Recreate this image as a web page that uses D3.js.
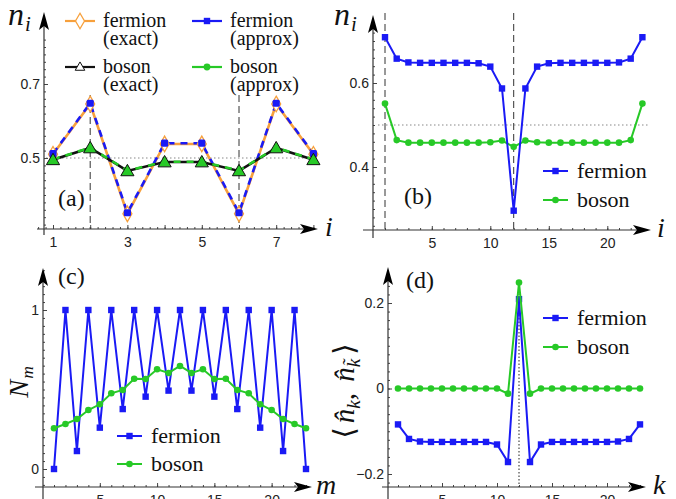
<!DOCTYPE html>
<html>
<head>
<meta charset="utf-8">
<script src="https://cdn.jsdelivr.net/npm/d3@7"></script>
<style>
  body { margin: 0; background: #fff; }
  .tick text { font-family: "Liberation Sans", Arial, sans-serif; font-size: 14px; fill: #222; }
</style>
</head>
<body>
<script>
// ---------- data ----------
var aSites = [1, 2, 3, 4, 5, 6, 7, 8];
var aFermionExact  = [0.510, 0.646, 0.349, 0.538, 0.538, 0.349, 0.646, 0.510];
var aFermionApprox = [0.512, 0.648, 0.352, 0.540, 0.540, 0.352, 0.648, 0.512];
var aBosonExact    = [0.495, 0.527, 0.465, 0.489, 0.489, 0.465, 0.527, 0.495];
var aBosonApprox   = [0.496, 0.528, 0.466, 0.490, 0.490, 0.466, 0.528, 0.496];
var aMarks = [2, 6];

var sites = [1, 2, 3, 4, 5, 6, 7, 8, 9, 10, 11, 12, 13, 14, 15, 16, 17, 18, 19, 20, 21, 22, 23];

var bFermion = [0.709, 0.658, 0.649, 0.648, 0.648, 0.648, 0.648, 0.648, 0.647, 0.639, 0.587, 0.296,
                0.587, 0.639, 0.647, 0.648, 0.648, 0.648, 0.648, 0.648, 0.649, 0.658, 0.709];
var bBoson   = [0.551, 0.464, 0.458, 0.458, 0.458, 0.458, 0.458, 0.458, 0.458, 0.459, 0.463, 0.448,
                0.463, 0.459, 0.458, 0.458, 0.458, 0.458, 0.458, 0.458, 0.458, 0.464, 0.551];
var bMarks = [1, 12];

var cFermion = [0, 1, 0.113, 1, 0.26, 1, 0.377, 1, 0.455, 1, 0.493, 1,
                0.493, 1, 0.455, 1, 0.377, 1, 0.26, 1, 0.113, 1, 0];
var cBoson   = [0.256, 0.283, 0.314, 0.371, 0.407, 0.476, 0.497, 0.568, 0.566, 0.627, 0.604, 0.648,
                0.604, 0.627, 0.566, 0.568, 0.497, 0.476, 0.407, 0.371, 0.314, 0.283, 0.256];

var dFermion = [-0.084, -0.118, -0.124, -0.125, -0.125, -0.125, -0.125, -0.125, -0.125, -0.131, -0.172, 0.209,
                -0.172, -0.131, -0.125, -0.125, -0.125, -0.125, -0.125, -0.125, -0.124, -0.118, -0.084];
var dBoson   = [0, 0, 0, 0, 0, 0, 0, 0, 0, 0, -0.012, 0.248,
                -0.012, 0, 0, 0, 0, 0, 0, 0, 0, 0, 0];
var dMarks = [12];

var aXLabels = [1, 3, 5, 7];
var sXLabels = [5, 10, 15, 20];
var aYLabels = [0.5, 0.7];
var bYLabels = [0.4, 0.6];
var cYLabels = [0, 1];
var dYLabels = [-0.2, 0, 0.2];

var BLUE = "#1a1af5", GREEN = "#27c927", ORANGE = "#f7a03c";
var SERIF = "Liberation Serif, DejaVu Serif, Times New Roman, serif";

var svg = d3.select("body").append("svg")
    .attr("width", 676)
    .attr("height", 499);

// axes with inward ticks, minor ticks and arrow heads
function drawAxes(g, o) {
  g.append("g").attr("transform", "translate(0," + o.ay + ")").style("color", "#444")
    .call(d3.axisBottom(o.x).tickValues(o.xMinor).tickSize(-2).tickFormat(""))
    .call(function(s) { s.select(".domain").remove(); });
  g.append("g").attr("transform", "translate(0," + o.ay + ")").style("color", "#444")
    .call(d3.axisBottom(o.x).tickValues(o.xMajor).tickSize(-4).tickPadding(8)
      .tickFormat(function(d) { return o.xLabels.indexOf(d) >= 0 ? d : ""; }))
    .call(function(s) { s.select(".domain").remove(); });
  g.append("g").attr("transform", "translate(" + o.ax + ",0)").style("color", "#444")
    .call(d3.axisLeft(o.y).tickValues(o.yMinor).tickSize(-2).tickFormat(""))
    .call(function(s) { s.select(".domain").remove(); });
  g.append("g").attr("transform", "translate(" + o.ax + ",0)").style("color", "#444")
    .call(d3.axisLeft(o.y).tickValues(o.yLabels).tickSize(-4).tickPadding(4).tickFormat(o.fmt))
    .call(function(s) { s.select(".domain").remove(); });

  g.append("line").attr("x1", o.x0).attr("x2", o.xTip - 8).attr("y1", o.ay).attr("y2", o.ay)
    .attr("stroke", "#333").attr("stroke-width", 1.2);
  g.append("line").attr("x1", o.ax).attr("x2", o.ax).attr("y1", o.y0).attr("y2", o.yTip + 8)
    .attr("stroke", "#333").attr("stroke-width", 1.2);
  g.append("path")
    .attr("d", "M" + o.xTip + "," + o.ay + "L" + (o.xTip - 18) + "," + (o.ay - 5) +
               "L" + (o.xTip - 14) + "," + o.ay + "L" + (o.xTip - 18) + "," + (o.ay + 5) + "Z")
    .attr("fill", "#000");
  g.append("path")
    .attr("d", "M" + o.ax + "," + o.yTip + "L" + (o.ax - 5) + "," + (o.yTip + 18) +
               "L" + o.ax + "," + (o.yTip + 14) + "L" + (o.ax + 5) + "," + (o.yTip + 18) + "Z")
    .attr("fill", "#000");
}

function serifText(g) {
  return g.append("text").attr("font-family", SERIF).attr("fill", "#111");
}

function mathLabel(g, x, y, base, sub, size, rot) {
  var t = serifText(g)
      .attr("transform", "translate(" + x + "," + y + ")" + (rot ? " rotate(-90)" : ""))
      .attr("text-anchor", rot ? "middle" : "start")
      .attr("font-style", "italic").attr("font-size", size);
  t.append("tspan").text(base);
  t.append("tspan").attr("dx", 1).attr("dy", size * 0.2).attr("font-size", size * 0.65).text(sub);
}

function panelLabel(g, x, y, s) {
  serifText(g).attr("x", x).attr("y", y).attr("font-size", 24).text(s);
}

function axisName(g, x, y, s) {
  serifText(g).attr("x", x).attr("y", y).attr("font-style", "italic").attr("font-size", 28).text(s);
}

function drawSeries(g, x, y, xs, vals, color, marker, w) {
  var line = d3.line().x(function(d, i) { return x(xs[i]); }).y(function(d) { return y(d); });
  g.append("path").datum(vals).attr("d", line).attr("fill", "none")
    .attr("stroke", color).attr("stroke-width", w);
  if (marker === "square") {
    g.selectAll(null).data(vals).enter().append("rect")
      .attr("x", function(d, i) { return x(xs[i]) - 3.2; })
      .attr("y", function(d) { return y(d) - 3.2; })
      .attr("width", 6.4).attr("height", 6.4).attr("fill", color);
  } else {
    g.selectAll(null).data(vals).enter().append("circle")
      .attr("cx", function(d, i) { return x(xs[i]); })
      .attr("cy", function(d) { return y(d); })
      .attr("r", 3.3).attr("fill", color);
  }
}

function legendItem(g, x, y, color, marker, label, size) {
  g.append("line").attr("x1", x).attr("x2", x + 25).attr("y1", y).attr("y2", y)
    .attr("stroke", color).attr("stroke-width", 2);
  if (marker === "square") {
    g.append("rect").attr("x", x + 9.3).attr("y", y - 3.2).attr("width", 6.4).attr("height", 6.4).attr("fill", color);
  } else {
    g.append("circle").attr("cx", x + 12.5).attr("cy", y).attr("r", 3.3).attr("fill", color);
  }
  serifText(g).attr("x", x + 34).attr("y", y + 6.5).attr("font-size", size).text(label);
}

var fmt1 = function(d) { return d === 0 ? "0" : d3.format(".1f")(d); };
var fmt0 = function(d) { return String(d); };

// ---------- panel (a) ----------
var ga = svg.append("g");
var xa = d3.scaleLinear().domain([1, 8]).range([53, 313.4]);
var ya = d3.scaleLinear().domain([0.5, 0.7]).range([158, 84]);

ga.selectAll(null).data(aMarks).enter().append("line")
  .attr("x1", xa).attr("x2", xa).attr("y1", 95).attr("y2", 229)
  .attr("stroke", "#333").attr("stroke-width", 1).attr("stroke-dasharray", "7,4");
ga.append("line").attr("x1", 46).attr("x2", 318).attr("y1", ya(0.5)).attr("y2", ya(0.5))
  .attr("stroke", "#888").attr("stroke-width", 1.2).attr("stroke-dasharray", "1.5,2.5");

drawAxes(ga, {
  x: xa, y: ya, ax: 44, ay: 229, x0: 37, xTip: 318, y0: 235, yTip: 12,
  xMinor: d3.range(3, 41).map(function(v) { return v / 5; }), xMajor: aSites, xLabels: aXLabels,
  yMinor: d3.range(16, 42).map(function(v) { return v / 50; }), yLabels: aYLabels, fmt: fmt1
});

var lineA = function(xs, vals) {
  return d3.line().x(function(d, i) { return xa(xs[i]); }).y(function(d) { return ya(d); })(vals);
};
ga.append("path").attr("d", lineA(aSites, aFermionExact)).attr("fill", "none")
  .attr("stroke", ORANGE).attr("stroke-width", 2.6);
ga.append("path").attr("d", lineA(aSites, aFermionApprox)).attr("fill", "none")
  .attr("stroke", BLUE).attr("stroke-width", 2.6).attr("stroke-dasharray", "7,6");
ga.append("path").attr("d", lineA(aSites, aBosonExact)).attr("fill", "none")
  .attr("stroke", "#111").attr("stroke-width", 2.6);
ga.append("path").attr("d", lineA(aSites, aBosonApprox)).attr("fill", "none")
  .attr("stroke", GREEN).attr("stroke-width", 2.6).attr("stroke-dasharray", "7,6");

var diamond = d3.symbol().type(d3.symbolDiamond).size(70);
var tri = d3.symbol().type(d3.symbolTriangle).size(75);
ga.selectAll(null).data(aFermionExact).enter().append("path")
  .attr("d", diamond)
  .attr("transform", function(d, i) { return "translate(" + xa(aSites[i]) + "," + ya(d) + ")"; })
  .attr("fill", "#fff").attr("stroke", ORANGE).attr("stroke-width", 1.3);
ga.selectAll(null).data(aFermionApprox).enter().append("rect")
  .attr("x", function(d, i) { return xa(aSites[i]) - 3.6; })
  .attr("y", function(d) { return ya(d) - 3.6; })
  .attr("width", 7.2).attr("height", 7.2).attr("rx", 1.5).attr("fill", BLUE);
ga.selectAll(null).data(aBosonExact).enter().append("path")
  .attr("d", tri)
  .attr("transform", function(d, i) { return "translate(" + xa(aSites[i]) + "," + (ya(d) + 1) + ")"; })
  .attr("fill", GREEN).attr("stroke", "#111").attr("stroke-width", 1);

// legend (a)
function legendA(x, y, color, kind, l1, l2) {
  ga.append("line").attr("x1", x).attr("x2", x + 30).attr("y1", y).attr("y2", y)
    .attr("stroke", color).attr("stroke-width", 2.2);
  if (kind === "diamond") {
    ga.append("path").attr("d", diamond).attr("transform", "translate(" + (x + 15) + "," + y + ")")
      .attr("fill", "#fff").attr("stroke", color).attr("stroke-width", 1.3);
  } else if (kind === "square") {
    ga.append("rect").attr("x", x + 11.8).attr("y", y - 3.2).attr("width", 6.4).attr("height", 6.4).attr("fill", color);
  } else if (kind === "tri") {
    ga.append("path").attr("d", d3.symbol().type(d3.symbolTriangle).size(40))
      .attr("transform", "translate(" + (x + 15) + "," + (y + 0.5) + ")")
      .attr("fill", "#fff").attr("stroke", color).attr("stroke-width", 1);
  } else {
    ga.append("circle").attr("cx", x + 15).attr("cy", y).attr("r", 3.4).attr("fill", color);
  }
  serifText(ga).attr("font-size", 20).attr("x", x + 38).attr("y", y + 6).text(l1);
  serifText(ga).attr("font-size", 20).attr("x", x + 38).attr("y", y + 24).text(l2);
}
legendA(65, 21, ORANGE, "diamond", "fermion", "(exact)");
legendA(192, 21, BLUE, "square", "fermion", "(approx)");
legendA(65, 67, "#111", "tri", "boson", "(exact)");
legendA(192, 67, GREEN, "circle", "boson", "(approx)");

mathLabel(ga, 8, 25, "n", "i", 32, false);
axisName(ga, 325, 236, "i");
panelLabel(ga, 58, 206, "(a)");

// ---------- panel (b) ----------
var gb = svg.append("g");
var xb = d3.scaleLinear().domain([1, 23]).range([385, 642.4]);
var yb = d3.scaleLinear().domain([0.4, 0.6]).range([167, 83]);

gb.selectAll(null).data(bMarks).enter().append("line")
  .attr("x1", xb).attr("x2", xb).attr("y1", 13).attr("y2", 230)
  .attr("stroke", "#333").attr("stroke-width", 1).attr("stroke-dasharray", "7,4");
gb.append("line").attr("x1", 378).attr("x2", 650).attr("y1", yb(0.5)).attr("y2", yb(0.5))
  .attr("stroke", "#888").attr("stroke-width", 1.2).attr("stroke-dasharray", "1.5,2.5");

drawAxes(gb, {
  x: xb, y: yb, ax: 373, ay: 230, x0: 363, xTip: 651, y0: 238, yTip: 15,
  xMinor: sites, xMajor: sXLabels, xLabels: sXLabels,
  yMinor: d3.range(13, 38).map(function(v) { return v / 50; }), yLabels: bYLabels, fmt: fmt1
});
drawSeries(gb, xb, yb, sites, bBoson, GREEN, "circle", 2);
drawSeries(gb, xb, yb, sites, bFermion, BLUE, "square", 2);
legendItem(gb, 543, 171, BLUE, "square", "fermion", 22);
legendItem(gb, 543, 200, GREEN, "circle", "boson", 22);

mathLabel(gb, 334, 25, "n", "i", 32, false);
axisName(gb, 657, 237, "i");
panelLabel(gb, 404, 204, "(b)");

// ---------- panel (c) ----------
var gc = svg.append("g");
var xc = d3.scaleLinear().domain([1, 23]).range([54, 306]);
var yc = d3.scaleLinear().domain([0, 1]).range([469, 310]);

drawAxes(gc, {
  x: xc, y: yc, ax: 43, ay: 487, x0: 35, xTip: 312, y0: 499, yTip: 268,
  xMinor: sites, xMajor: sXLabels, xLabels: sXLabels,
  yMinor: d3.range(-2, 26).map(function(v) { return v / 20; }), yLabels: cYLabels, fmt: fmt0
});
drawSeries(gc, xc, yc, sites, cFermion, BLUE, "square", 2);
drawSeries(gc, xc, yc, sites, cBoson, GREEN, "circle", 2);
legendItem(gc, 117, 436, BLUE, "square", "fermion", 22);
legendItem(gc, 117, 464, GREEN, "circle", "boson", 22);

mathLabel(gc, 28, 382, "N", "m", 27, true);
axisName(gc, 316, 494, "m");
panelLabel(gc, 58, 284, "(c)");

// ---------- panel (d) ----------
var gd = svg.append("g");
var xd = d3.scaleLinear().domain([1, 23]).range([398, 640]);
var yd = d3.scaleLinear().domain([-0.2, 0.2]).range([474, 303]);

gd.selectAll(null).data(dMarks).enter().append("line")
  .attr("x1", xd).attr("x2", xd).attr("y1", 283).attr("y2", 487)
  .attr("stroke", "#222").attr("stroke-width", 1).attr("stroke-dasharray", "1.5,2");

drawAxes(gd, {
  x: xd, y: yd, ax: 388, ay: 487, x0: 382, xTip: 646, y0: 499, yTip: 267,
  xMinor: sites, xMajor: sXLabels, xLabels: sXLabels,
  yMinor: d3.range(-11, 13).map(function(v) { return v / 50; }), yLabels: dYLabels, fmt: fmt1
});
drawSeries(gd, xd, yd, sites, dFermion, BLUE, "square", 2);
drawSeries(gd, xd, yd, sites, dBoson, GREEN, "circle", 2);
legendItem(gd, 543, 318, BLUE, "square", "fermion", 22);
legendItem(gd, 543, 347, GREEN, "circle", "boson", 22);

var td = serifText(gd)
  .attr("transform", "translate(354,391) rotate(-90)")
  .attr("text-anchor", "middle").attr("font-size", 29);
td.append("tspan").text("\u27E8");
td.append("tspan").attr("dx", 4).attr("font-style", "italic").text("n\u0302");
td.append("tspan").attr("dy", 6).attr("font-style", "italic").attr("font-size", 19).text("k");
td.append("tspan").attr("dy", -6).text(", ");
td.append("tspan").attr("dx", 4).attr("font-style", "italic").text("n\u0302");
td.append("tspan").attr("dy", 6).attr("font-style", "italic").attr("font-size", 19).text("k\u0303");
td.append("tspan").attr("dy", -6).attr("dx", 4).text("\u27E9");
axisName(gd, 653, 494, "k");
panelLabel(gd, 406, 288, "(d)");
</script>
</body>
</html>
